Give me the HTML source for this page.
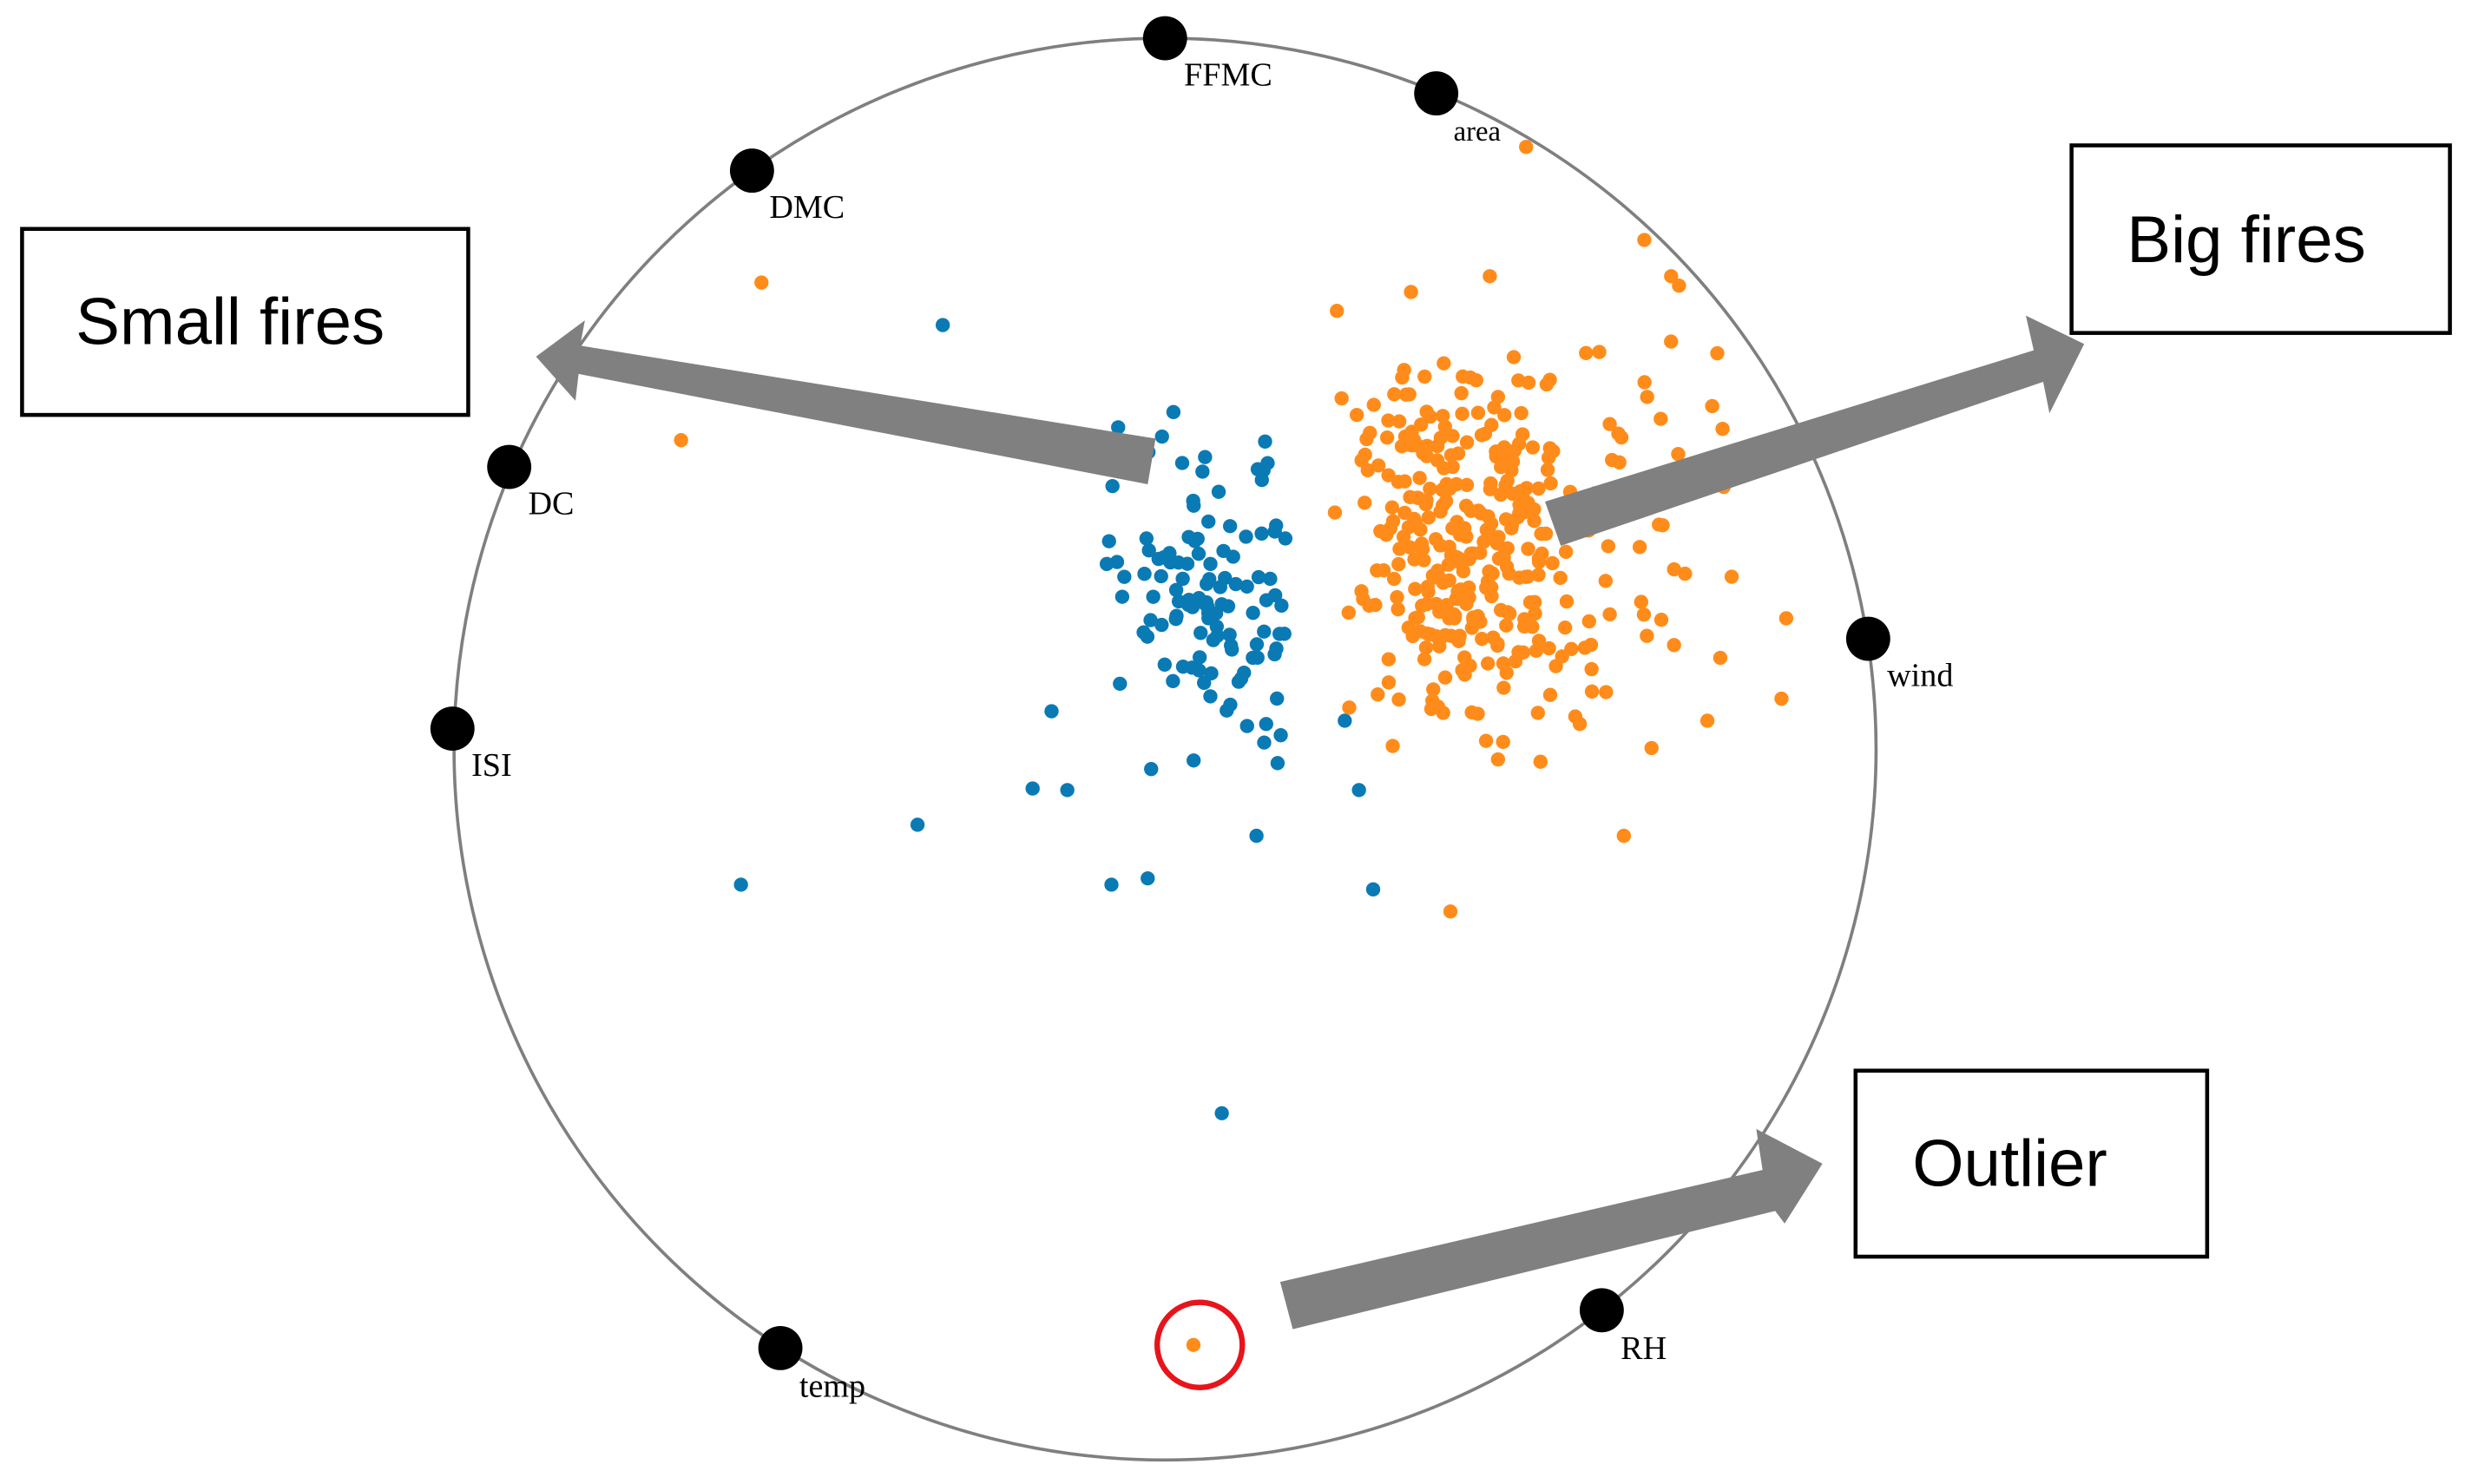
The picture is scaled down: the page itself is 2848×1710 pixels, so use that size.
<!DOCTYPE html>
<html><head><meta charset="utf-8"><style>
html,body{margin:0;padding:0;background:#fff;}
svg{display:block;}
</style></head><body>
<svg id="s" width="2848" height="1710" viewBox="0 0 1568 941" xmlns="http://www.w3.org/2000/svg">
<rect width="1568" height="941" fill="#fff"/>
<circle cx="739" cy="475" r="451" fill="none" stroke="#7f7f7f" stroke-width="2"/>
<g id="dots"></g>
<circle cx="757" cy="853" r="4.5" fill="#ff8c1a"/>
<circle cx="761" cy="853" r="27" fill="none" stroke="#e8141b" stroke-width="3.5"/>
<circle cx="775" cy="706" r="4.5" fill="#0a7ab5"/>
<g fill="#808080">
<polygon points="733,278 368,219 371,203 340,226 365,254 367,237 728,307"/>
<polygon points="980,318 1290,222 1285,200 1322,218 1300,262 1296,242 990,346"/>
<polygon points="812,813 1118,742 1114,716 1156,738 1132,776 1126,768 820,843"/>
</g>
<g fill="#fff" stroke="#000" stroke-width="2.5">
<rect x="14" y="145" width="283" height="118"/>
<rect x="1314" y="92" width="240" height="119"/>
<rect x="1177" y="679" width="223" height="118"/>
</g>
<g font-family="'Liberation Sans',sans-serif" font-size="42" fill="#000">
<text x="48" y="218">Small fires</text>
<text x="1349" y="166">Big fires</text>
<text x="1213" y="752">Outlier</text>
</g>
<g fill="#000">
<circle cx="739" cy="24" r="14"/><circle cx="911" cy="59" r="14"/>
<circle cx="477" cy="108" r="14"/><circle cx="323" cy="296" r="14"/>
<circle cx="287" cy="462" r="14"/><circle cx="1185" cy="405" r="14"/>
<circle cx="1016" cy="831" r="14"/><circle cx="495" cy="855" r="14"/>
</g>
<g font-family="'Liberation Serif',serif" font-size="21" fill="#000">
<text x="751" y="54">FFMC</text><text x="922" y="89" font-size="18">area</text>
<text x="488" y="138">DMC</text><text x="335" y="326">DC</text>
<text x="299" y="492">ISI</text><text x="1197" y="435">wind</text>
<text x="1028" y="862">RH</text><text x="507" y="886">temp</text>
</g>
</svg>
<script>
(function(){
var seed=7;function r(){seed=(seed*16807)%2147483647;return seed/2147483647;}
function g(){return (r()+r()-1);}
var ns="http://www.w3.org/2000/svg",G=document.getElementById("dots");
function d(x,y,c){var e=document.createElementNS(ns,"circle");e.setAttribute("cx",x);e.setAttribute("cy",y);e.setAttribute("r",4.5);e.setAttribute("fill",c);G.appendChild(e);}
var B="#0a7ab5",O="#ff8c1a",i;
for(i=0;i<120;i++)d(762+g()*65,375+g()*115,B);
[[598,206],[470,561],[582,523],[655,500],[677,501],[705,561],[728,557],[797,530],[871,564],[862,501],[853,457],[667,451]].forEach(function(p){d(p[0],p[1],B);});
for(i=0;i<230;i++)d(925+g()*75,335+g()*110,O);
for(i=0;i<130;i++)d(975+g()*150,345+g()*150,O);
[[483,179],[432,279],[968,93],[1043,152],[1060,175],[1065,181],[1133,392],[1130,443],[1083,457],[1030,530],[920,578],[945,175],[895,185],[848,197]].forEach(function(p){d(p[0],p[1],O);});
})();
</script>
</body></html>
